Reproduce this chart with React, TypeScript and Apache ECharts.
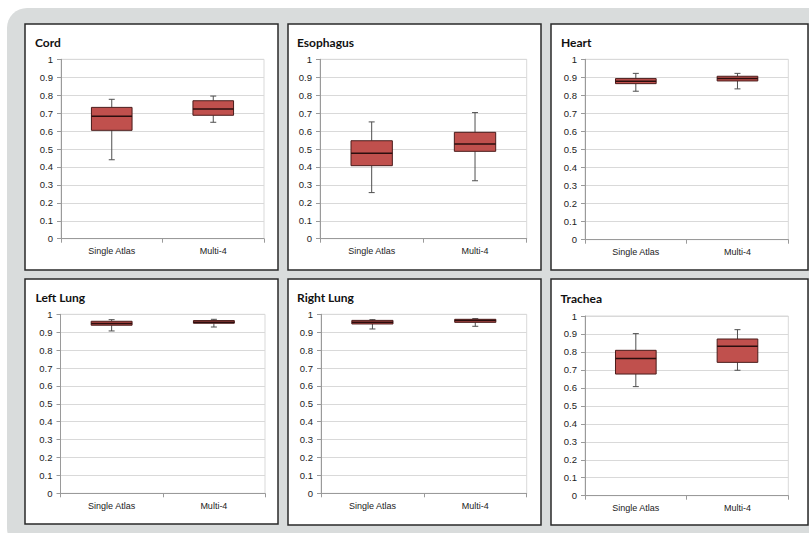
import React, { useEffect, useRef } from "react";
import * as echarts from "echarts";

const categories = ["Single Atlas", "Multi-4"];
const panelTitles = ["Cord", "Esophagus", "Heart", "Left Lung", "Right Lung", "Trachea"];

// [min, Q1, median, Q3, max] per category
const cordValues = [
  [0.44, 0.604, 0.682, 0.732, 0.777],
  [0.649, 0.688, 0.723, 0.769, 0.795],
];
const esophagusValues = [
  [0.257, 0.407, 0.476, 0.546, 0.651],
  [0.323, 0.487, 0.528, 0.593, 0.703],
];
const heartValues = [
  [0.823, 0.865, 0.878, 0.893, 0.922],
  [0.836, 0.88, 0.893, 0.906, 0.922],
];
const leftLungValues = [
  [0.907, 0.939, 0.948, 0.961, 0.97],
  [0.929, 0.95, 0.955, 0.965, 0.972],
];
const rightLungValues = [
  [0.918, 0.946, 0.955, 0.966, 0.97],
  [0.933, 0.955, 0.965, 0.972, 0.976],
];
const tracheaValues = [
  [0.607, 0.677, 0.764, 0.809, 0.902],
  [0.698, 0.742, 0.831, 0.872, 0.924],
];
const panelValues = [cordValues, esophagusValues, heartValues, leftLungValues, rightLungValues, tracheaValues];

const yMin = 0;
const yMax = 1;
const yInterval = 0.1;

// layout: panel frame [x, y, w, h], plot area [left, top, right, bottom]
const panelFrames = [
  [25, 24, 253, 246],
  [288, 24, 253, 246],
  [551, 24, 257, 246],
  [25, 279, 253, 245],
  [288, 279, 253, 246],
  [551, 279, 257, 246],
];
const plotAreas = [
  [61, 59.3, 264, 238.7],
  [320, 59.3, 526.7, 238.7],
  [585, 59.3, 788.3, 239.7],
  [60.5, 314.3, 265, 493.3],
  [321, 314.3, 526.7, 493.3],
  [585, 316, 788.3, 495.7],
];
const titlePos = [
  [35, 42],
  [297, 42],
  [561, 42],
  [35.5, 297.5],
  [297, 297.5],
  [560.5, 298.5],
];

const W = 809;
const H = 533;

export default function App() {
  const ref = useRef<HTMLDivElement>(null);
  useEffect(() => {
    if (!ref.current) return;
    const chart = echarts.init(ref.current, null, { renderer: "svg", width: W, height: H });

    const grids: any[] = [];
    const xAxes: any[] = [];
    const yAxes: any[] = [];
    const series: any[] = [];
    const graphics: any[] = [
      {
        type: "rect",
        z: -20,
        shape: { x: 7, y: 8, width: 830, height: 540, r: 20 },
        style: { fill: "#d9dcdc" },
      },
    ];

    panelTitles.forEach((title, i) => {
      const [px, py, pw, ph] = panelFrames[i];
      graphics.push({
        type: "rect",
        z: -10,
        shape: { x: px, y: py, width: pw, height: ph },
        style: { fill: "#ffffff", stroke: "#2a2a2a", lineWidth: 1.5 },
      });
      graphics.push({
        type: "text",
        z: 10,
        x: titlePos[i][0],
        y: titlePos[i][1],
        style: {
          text: title,
          fontSize: 12,
          fontWeight: "bold",
          fontFamily: "Lato",
          fill: "#111",
          verticalAlign: "middle",
          align: "left",
        },
      });
      const [l, t, r, b] = plotAreas[i];
      grids.push({
        left: l,
        top: t,
        width: r - l,
        height: b - t,
        show: true,
        borderColor: "#d9d9d9",
        borderWidth: 1,
        backgroundColor: "transparent",
        containLabel: false,
      });
      xAxes.push({
        type: "category",
        gridIndex: i,
        data: categories,
        boundaryGap: true,
        axisLine: { show: true, lineStyle: { color: "#9a9a9a", width: 1 } },
        axisTick: { show: true, alignWithLabel: false, length: 4, lineStyle: { color: "#9a9a9a" } },
        axisLabel: {
          margin: 8,
          fontSize: 9,
          fontFamily: "Liberation Sans",
          color: "#222",
        },
        splitLine: { show: false },
      });
      yAxes.push({
        type: "value",
        gridIndex: i,
        min: yMin,
        max: yMax,
        interval: yInterval,
        axisLine: { show: true, lineStyle: { color: "#9a9a9a", width: 1 } },
        axisTick: { show: true, length: 4, lineStyle: { color: "#9a9a9a" } },
        axisLabel: {
          margin: 8,
          fontSize: 9.5,
          fontFamily: "Liberation Sans",
          color: "#222",
          formatter: (v: number) => String(Math.round(v * 10) / 10),
        },
        splitLine: { show: true, lineStyle: { color: "#d9d9d9", width: 1 } },
      });
      series.push({
        type: "custom",
        xAxisIndex: i,
        yAxisIndex: i,
        encode: { x: 0, y: [1, 2, 3, 4, 5] },
        data: panelValues[i].map((v, k) => [k, ...v]),
        renderItem: (params: any, api: any) => {
          const idx = api.value(0);
          const pMin = api.coord([idx, api.value(1)]);
          const pQ1 = api.coord([idx, api.value(2)]);
          const pMed = api.coord([idx, api.value(3)]);
          const pQ3 = api.coord([idx, api.value(4)]);
          const pMax = api.coord([idx, api.value(5)]);
          const bw = api.size([1, 0])[0] * 0.4;
          const cx = pMin[0];
          const cap = 3;
          const whiskerStyle = { stroke: "#4f4f4f", lineWidth: 1 };
          return {
            type: "group",
            children: [
              { type: "line", shape: { x1: cx, y1: pMin[1], x2: cx, y2: pQ1[1] }, style: whiskerStyle },
              { type: "line", shape: { x1: cx, y1: pQ3[1], x2: cx, y2: pMax[1] }, style: whiskerStyle },
              { type: "line", shape: { x1: cx - cap, y1: pMin[1], x2: cx + cap, y2: pMin[1] }, style: whiskerStyle },
              { type: "line", shape: { x1: cx - cap, y1: pMax[1], x2: cx + cap, y2: pMax[1] }, style: whiskerStyle },
              {
                type: "rect",
                shape: { x: cx - bw / 2, y: pQ3[1], width: bw, height: pQ1[1] - pQ3[1] },
                style: { fill: "#c0504d", stroke: "#4a1c1b", lineWidth: 1 },
              },
              {
                type: "line",
                shape: { x1: cx - bw / 2, y1: pMed[1], x2: cx + bw / 2, y2: pMed[1] },
                style: { stroke: "#2b0e0e", lineWidth: 1.5 },
              },
            ],
          };
        },
      });
    });

    chart.setOption({
      animation: false,
      backgroundColor: "#ffffff",
      grid: grids,
      xAxis: xAxes,
      yAxis: yAxes,
      series,
      graphic: { elements: graphics },
    });
    return () => chart.dispose();
  }, []);
  return (
    <div
      ref={ref}
      style={{ position: "absolute", left: 0, top: 0, width: W, height: H }}
    />
  );
}
